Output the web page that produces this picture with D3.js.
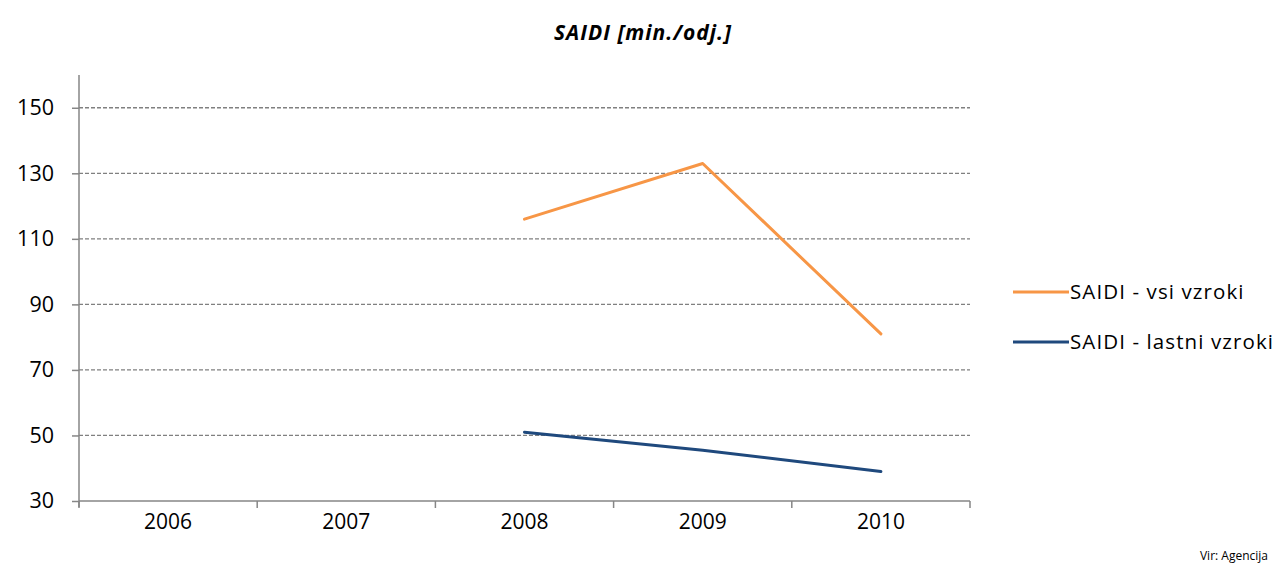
<!DOCTYPE html>
<html>
<head>
<meta charset="utf-8">
<script src="https://cdn.jsdelivr.net/npm/d3@7"></script>
<style>
  body { margin: 0; background: #fff; }
  svg { display: block; font-family: "Open Sans", sans-serif; }
</style>
</head>
<body>
<svg width="1279" height="567"></svg>
<script>
// chart data
var years = ['2006', '2007', '2008', '2009', '2010'];
var seriesNames = ['SAIDI - vsi vzroki', 'SAIDI - lastni vzroki'];
var vsiVzroki = [null, null, 116, 133, 81];
var lastniVzroki = [null, null, 51, 45.5, 39];
var yTicks = [30, 50, 70, 90, 110, 130, 150];

var colors = ['#F79646', '#1F497D'];

var svg = d3.select('svg');
var padding = {t: 75, l: 79, r: 309, b: 66};
var width = 1279 - padding.l - padding.r;
var height = 567 - padding.t - padding.b;

var chartG = svg.append('g')
    .attr('transform', 'translate(' + [padding.l, padding.t] + ')');

var xScale = d3.scaleBand().domain(years).range([0, width]);
var yScale = d3.scaleLinear().domain([30, 160]).range([height, 0]);

// dashed gridlines
chartG.selectAll('.grid')
    .data(yTicks.slice(1))
    .enter().append('line')
    .attr('class', 'grid')
    .attr('x1', 0).attr('x2', width)
    .attr('y1', function(d) { return yScale(d); })
    .attr('y2', function(d) { return yScale(d); })
    .attr('stroke', '#808080')
    .attr('stroke-dasharray', '4,2')
    .attr('stroke-width', 1.3);

// y axis
var yAxis = d3.axisLeft(yScale).tickValues(yTicks).tickSize(7).tickPadding(18);
var yG = chartG.append('g').call(yAxis);
yG.select('.domain').attr('stroke', '#868686').attr('stroke-width', 1.5)
    .attr('d', 'M0,' + (height + 6) + 'V0');
yG.selectAll('.tick line').attr('stroke', '#868686').attr('stroke-width', 1.5);
yG.selectAll('.tick text').attr('font-size', '21.5px').attr('fill', '#000')
    .attr('font-family', '"Open Sans", sans-serif');

// x axis, ticks between categories
var xG = chartG.append('g').attr('transform', 'translate(0,' + height + ')');
xG.append('line').attr('x1', 0).attr('x2', width)
    .attr('stroke', '#868686').attr('stroke-width', 1.5);
xG.selectAll('.xtick')
    .data(years.concat(['end']))
    .enter().append('line')
    .attr('class', 'xtick')
    .attr('x1', function(d, i) { return i * xScale.step(); })
    .attr('x2', function(d, i) { return i * xScale.step(); })
    .attr('y1', 0).attr('y2', 7)
    .attr('stroke', '#868686').attr('stroke-width', 1.5);
xG.selectAll('.xlabel')
    .data(years)
    .enter().append('text')
    .attr('class', 'xlabel')
    .attr('x', function(d) { return xScale(d) + xScale.bandwidth() / 2; })
    .attr('y', 28)
    .attr('text-anchor', 'middle')
    .attr('font-size', '21px')
    .text(function(d) { return d; });

// lines
var line = d3.line()
    .defined(function(d) { return d != null; })
    .x(function(d, i) { return xScale(years[i]) + xScale.bandwidth() / 2; })
    .y(function(d) { return yScale(d); });

[vsiVzroki, lastniVzroki].forEach(function(s, k) {
    chartG.append('path')
        .attr('d', line(s))
        .attr('fill', 'none')
        .attr('stroke', colors[k])
        .attr('stroke-width', 3)
        .attr('stroke-linecap', 'round')
        .attr('stroke-linejoin', 'round');
});

// title
svg.append('text')
    .attr('x', 643).attr('y', 40)
    .attr('text-anchor', 'middle')
    .attr('font-size', '21px')
    .attr('font-weight', 'bold')
    .attr('font-style', 'italic')
    .attr('letter-spacing', '1px')
    .text('SAIDI [min./odj.]');

// legend
var legend = svg.append('g').attr('transform', 'translate(1013,292)');
seriesNames.forEach(function(name, k) {
    legend.append('line')
        .attr('x1', 0).attr('x2', 56)
        .attr('y1', k * 50).attr('y2', k * 50)
        .attr('stroke', colors[k]).attr('stroke-width', 3);
    legend.append('text')
        .attr('x', 57).attr('y', k * 50 + 7)
        .attr('font-size', '20.5px')
        .attr('letter-spacing', '1.1px')
        .text(name);
});

// source
svg.append('text')
    .attr('x', 1268).attr('y', 560)
    .attr('text-anchor', 'end')
    .attr('font-size', '12px')
    .text('Vir: Agencija');
</script>
</body>
</html>
